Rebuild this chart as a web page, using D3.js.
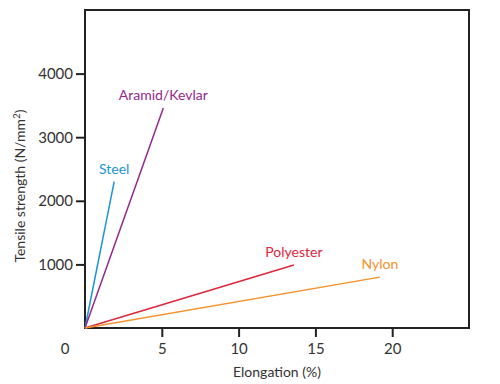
<!DOCTYPE html>
<html>
<head>
<meta charset="utf-8">
<script src="https://cdn.jsdelivr.net/npm/d3@7"></script>
<style>
  body { margin: 0; background: #fff; }
  svg { display: block; font-family: Lato, "Open Sans", sans-serif; }
</style>
</head>
<body>
<svg id="chart"></svg>
<script>
// fibre end points (elongation %, strength N/mm2)
const materials = ['Steel', 'Aramid/Kevlar', 'Polyester', 'Nylon'];
const elongation = [1.9, 5.1, 13.6, 19.2];
const strength = [2300, 3460, 990, 800];
const colors = ['#1b96d2', '#93288e', '#e1263b', '#f5922a'];

const xTicks = [5, 10, 15, 20];
const yTicks = [1000, 2000, 3000, 4000];

const width = 500, height = 384;
const margin = { top: 10, right: 31, bottom: 56, left: 85 };

const svg = d3.select('#chart')
  .attr('width', width)
  .attr('height', height);

const x = d3.scaleLinear().domain([0, 25]).range([margin.left, width - margin.right]);
const y = d3.scaleLinear().domain([0, 5000]).range([height - margin.bottom, margin.top]);

// axes
const xAxis = svg.append('g')
  .attr('transform', `translate(0,${height - margin.bottom})`)
  .call(d3.axisBottom(x).tickValues(xTicks).tickFormat(d3.format('d')).tickSize(9).tickPadding(6).tickSizeOuter(0));

const yAxis = svg.append('g')
  .attr('transform', `translate(${margin.left},0)`)
  .call(d3.axisLeft(y).tickValues(yTicks).tickFormat(d3.format('d')).tickSize(9).tickPadding(3).tickSizeOuter(0));

[xAxis, yAxis].forEach(a => {
  a.select('.domain').remove();
  a.selectAll('line').attr('stroke', '#222').attr('stroke-width', 2);
  a.selectAll('text').style('font-size', '15px').style('fill', '#333').style('font-family', 'Lato, sans-serif');
});

// shared origin label
svg.append('text')
  .attr('x', x(0) - 20)
  .attr('y', y(0) + 21)
  .attr('dy', '.35em')
  .attr('text-anchor', 'middle')
  .style('font-size', '15px')
  .style('fill', '#333')
  .text('0');

// frame
svg.append('rect')
  .attr('x', margin.left)
  .attr('y', margin.top)
  .attr('width', width - margin.left - margin.right)
  .attr('height', height - margin.top - margin.bottom)
  .attr('fill', 'none')
  .attr('stroke', '#222')
  .attr('stroke-width', 2);

// lines from origin
const data = materials.map((m, i) => ({ name: m, e: elongation[i], s: strength[i], color: colors[i] }));

svg.selectAll('line.fibre')
  .data(data)
  .enter()
  .append('line')
  .attr('class', 'fibre')
  .attr('x1', x(0))
  .attr('y1', y(0))
  .attr('x2', d => x(d.e))
  .attr('y2', d => y(d.s))
  .attr('stroke', d => d.color)
  .attr('stroke-width', 1.5);

svg.selectAll('text.label')
  .data(data)
  .enter()
  .append('text')
  .attr('class', 'label')
  .attr('x', d => x(d.e))
  .attr('y', d => y(d.s) - 8)
  .attr('text-anchor', 'middle')
  .style('font-size', '14px')
  .style('fill', d => d.color)
  .text(d => d.name);

// axis titles
svg.append('text')
  .attr('x', (margin.left + width - margin.right) / 2)
  .attr('y', 377)
  .attr('text-anchor', 'middle')
  .style('font-size', '14px')
  .style('fill', '#333')
  .text('Elongation (%)');

const yTitle = svg.append('text')
  .attr('transform', 'translate(25,186) rotate(-90)')
  .attr('text-anchor', 'middle')
  .style('font-size', '14px')
  .style('fill', '#333');
yTitle.append('tspan').text('Tensile strength (N/mm');
yTitle.append('tspan').attr('dy', -5).style('font-size', '10px').text('2');
yTitle.append('tspan').attr('dy', 5).text(')');
</script>
</body>
</html>
